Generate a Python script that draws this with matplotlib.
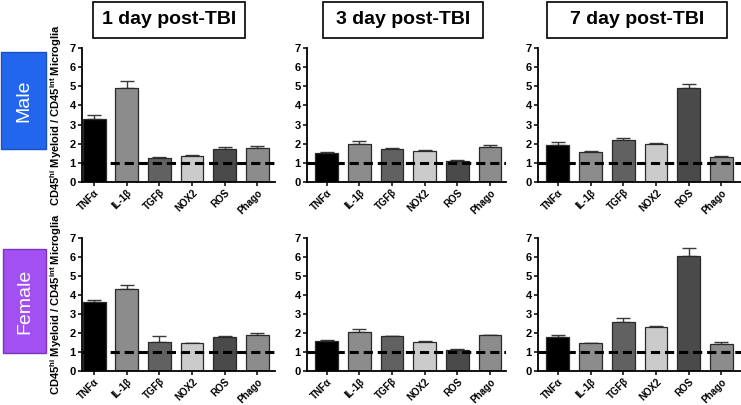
import matplotlib
matplotlib.use("Agg")
import matplotlib.pyplot as plt
from matplotlib.patches import Rectangle

plt.rcParams['font.family'] = ['Liberation Sans', 'DejaVu Sans']
plt.rcParams['mathtext.fontset'] = 'custom'
plt.rcParams['mathtext.rm'] = 'Liberation Sans:bold'
plt.rcParams['mathtext.it'] = 'Liberation Sans:bold'
plt.rcParams['mathtext.bf'] = 'Liberation Sans:bold'

categories = ["TNFα", "IL-1β", "TGFβ", "NOX2", "ROS", "Phago"]
titles = ["1 day post-TBI", "3 day post-TBI", "7 day post-TBI"]
rows = ["Male", "Female"]

male_1d = [3.30, 4.92, 1.25, 1.36, 1.70, 1.80]
male_1d_err = [0.22, 0.35, 0.08, 0.03, 0.12, 0.08]
male_3d = [1.50, 2.00, 1.73, 1.62, 1.10, 1.85]
male_3d_err = [0.05, 0.15, 0.03, 0.05, 0.03, 0.06]
male_7d = [1.95, 1.58, 2.18, 2.00, 4.90, 1.28]
male_7d_err = [0.12, 0.06, 0.10, 0.02, 0.22, 0.08]

female_1d = [3.65, 4.30, 1.55, 1.45, 1.78, 1.92]
female_1d_err = [0.10, 0.25, 0.30, 0.03, 0.05, 0.10]
female_3d = [1.58, 2.05, 1.83, 1.55, 1.08, 1.88]
female_3d_err = [0.05, 0.16, 0.03, 0.03, 0.08, 0.04]
female_7d = [1.80, 1.45, 2.60, 2.30, 6.07, 1.42]
female_7d_err = [0.12, 0.05, 0.18, 0.08, 0.40, 0.10]

data = [[(male_1d, male_1d_err), (male_3d, male_3d_err), (male_7d, male_7d_err)],
        [(female_1d, female_1d_err), (female_3d, female_3d_err), (female_7d, female_7d_err)]]

bar_colors = ["#000000", "#8c8c8c", "#616161", "#cbcbcb", "#4a4a4a", "#8c8c8c"]

W, H = 741, 405
fig = plt.figure(figsize=(W / 100, H / 100), dpi=100)

def fx(px):
    return px / W

def fy(py):
    return 1 - py / H

col_px = [(82, 275), (307, 506), (538, 741)]
xlims = [(-0.37, 5.54), (-0.60, 5.49), (-0.61, 5.60)]
row_px = [(48, 182), (238, 371)]

for r in range(2):
    for c in range(3):
        l, rr = col_px[c]
        t, b = row_px[r]
        ax = fig.add_axes([fx(l), fy(b), fx(rr - l), (b - t) / H])
        vals, errs = data[r][c]
        x = list(range(len(categories)))
        ax.bar(x, vals, width=0.7, color=bar_colors, edgecolor="#2a2a2a",
               linewidth=0.9, zorder=2)
        ax.errorbar(x, vals, yerr=[[0] * len(errs), errs], fmt="none",
                    ecolor="#3a3a3a", elinewidth=1.0, capsize=5, capthick=1.0,
                    zorder=1)
        ax.axhline(1, color="black", lw=2.2, ls=(0, (3, 1.6)), zorder=3)
        ax.set_ylim(0, 7)
        ax.set_xlim(*xlims[c])
        ax.set_yticks(range(8))
        ax.set_yticklabels([str(i) for i in range(8)], fontsize=8,
                           fontweight="bold")
        ax.set_xticks(x)
        ax.set_xticklabels(categories, rotation=45, ha="right",
                           rotation_mode="anchor", fontsize=7,
                           fontweight="bold")
        for s in ["top", "right"]:
            ax.spines[s].set_visible(False)
        for s in ["left", "bottom"]:
            ax.spines[s].set_linewidth(1.3)
        ax.tick_params(axis="both", length=3, width=1.1, pad=1.5)
        ax.tick_params(axis="x", pad=1)
        ax.set_facecolor("none")
        if c == 0:
            ax.set_ylabel("CD45$^{hi}$ Myeloid / CD45$^{int}$ Microglia",
                          fontsize=8, fontweight="bold")
            ax.yaxis.set_label_coords(-0.095, 0.5)

title_boxes = [(93, 245), (323, 483), (547, 727)]
for (x0, x1), ttl in zip(title_boxes, titles):
    y0, y1 = 2, 38
    fig.patches.append(Rectangle((fx(x0), fy(y1)), fx(x1 - x0), (y1 - y0) / H,
                                 transform=fig.transFigure, facecolor="white",
                                 edgecolor="black", linewidth=1.2))
    fig.text(fx((x0 + x1) / 2), fy((y0 + y1) / 2), ttl, ha="center",
             va="center", fontsize=14, fontweight="bold")

row_boxes = [((1, 46, 52, 149), "#2266ee", "#1a4fc0"),
             ((3, 46, 249, 353), "#a350f2", "#7a35c0")]
for ((x0, x1, y0, y1), fc, ec), lab in zip(row_boxes, rows):
    fig.patches.append(Rectangle((fx(x0), fy(y1)), fx(x1 - x0), (y1 - y0) / H,
                                 transform=fig.transFigure, facecolor=fc,
                                 edgecolor=ec, linewidth=1.0))
    fig.text(fx((x0 + x1) / 2), fy((y0 + y1) / 2), lab, ha="center",
             va="center", rotation=90, fontsize=14, color="white")

fig.savefig("out.png", dpi=100)
